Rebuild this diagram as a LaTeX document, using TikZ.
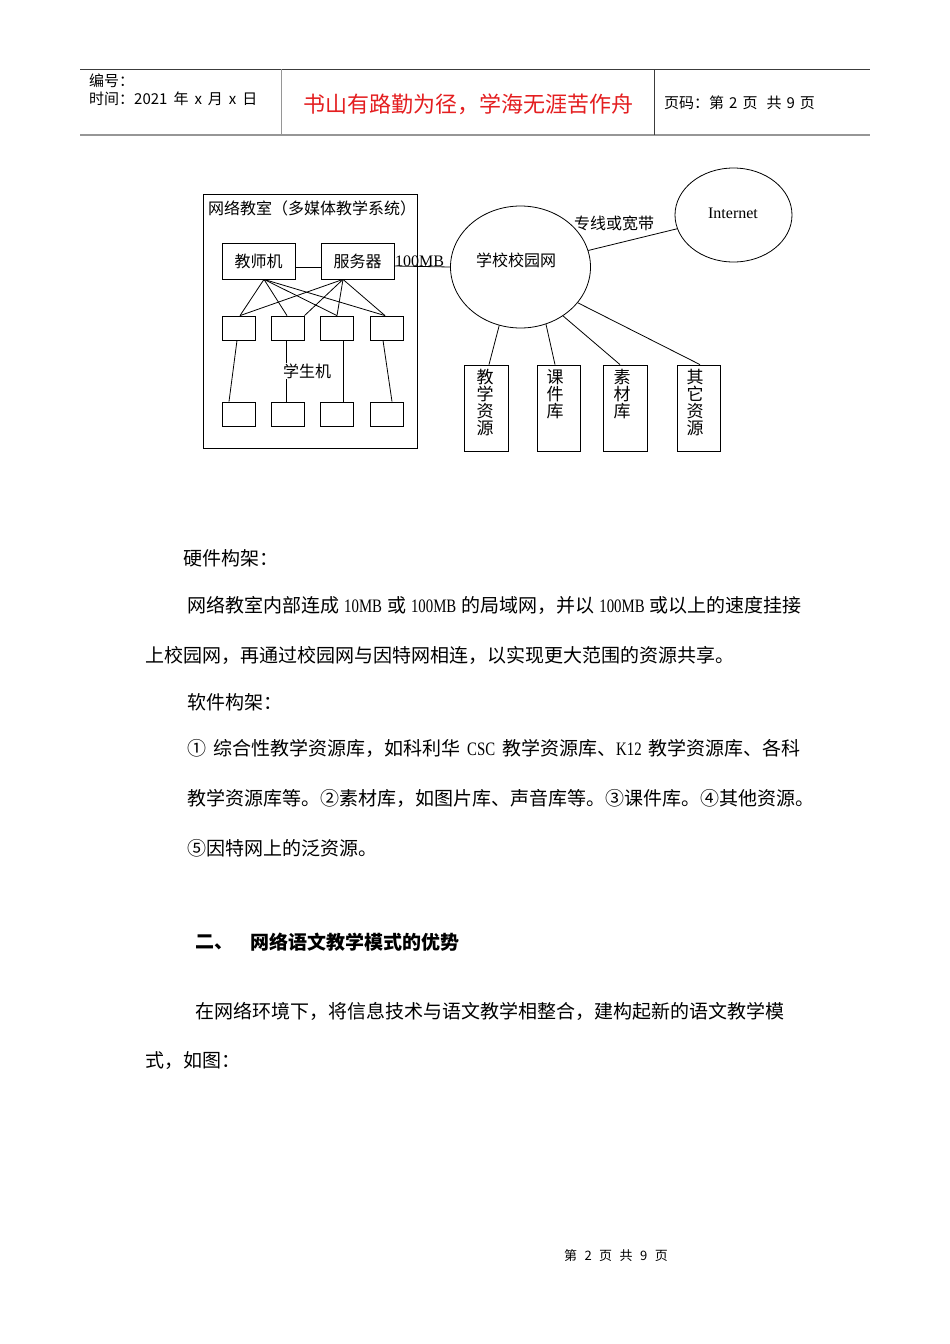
\documentclass[tikz,border=0pt]{standalone}
\usepackage{fontspec}
\usepackage{graphicx}
\setmainfont{Liberation Serif}
\newfontfamily\cjk{Noto Sans CJK SC}
\newfontfamily\latf{Liberation Serif}
\newcommand\lat[1]{\scalebox{0.78}[1]{\latf #1}}
\newcommand\sps{\hspace{7pt}}
\newcommand\spn{\hspace{5pt}}
\usetikzlibrary{shapes.geometric,calc}
\definecolor{hdrred}{RGB}{228,30,32}
\definecolor{hdrgray}{RGB}{150,150,150}
\definecolor{hdrdark}{RGB}{60,60,60}
\begin{document}
\begin{tikzpicture}[x=1pt,y=-1pt,
  ln/.style={line width=0.8pt},
  pcbox/.style={draw,line width=0.8pt,inner sep=0,minimum width=33pt,minimum height=24pt},
  srvbox/.style={draw,line width=0.8pt,inner sep=0,minimum width=73pt,minimum height=36pt,font=\cjk\fontsize{16}{16}\selectfont},
  resbox/.style={draw,line width=0.8pt,inner sep=0,minimum width=44pt,minimum height=86pt},
  vtext/.style={anchor=north,inner sep=0,align=center,font=\cjk\fontsize{17}{17}\selectfont},
  dlabel/.style={inner sep=0,font=\cjk\fontsize{16}{16}\selectfont},
  body/.style={anchor=west,inner sep=0,font=\cjk\fontsize{19}{19}\selectfont},
  hdr/.style={anchor=west,inner sep=0,font=\cjk\fontsize{15}{15}\selectfont}]
\useasboundingbox (0,0) rectangle (950,1344);
\fill[white] (0,0) rectangle (950,1344);

% ---------- header ----------
\coordinate (hTL) at (80,69);
\coordinate (hTR) at (870,69);
\coordinate (hBL) at (80,135);
\coordinate (hBR) at (870,135);
\draw[hdrdark,line width=1pt] (hTL) -- (hTR);
\draw[hdrgray,line width=1.6pt] (hBL) -- (hBR);
\coordinate (v1t) at (281,69); \coordinate (v1b) at (281,135);
\coordinate (v2t) at (654,69); \coordinate (v2b) at (654,135);
\draw[hdrgray,line width=1pt] (v1t) -- (v1b);
\draw[hdrdark,line width=1pt] (v2t) -- (v2b);
\node[hdr] (hno) at (89,81) {编号：};
\node[hdr] (htime) at (89,99) {时间：2021\hspace{6pt}年\hspace{6pt}x\hspace{6pt}月\hspace{6pt}x\hspace{6pt}日};
\node[anchor=center,inner sep=0,text=hdrred,font=\cjk\fontsize{22}{22}\selectfont] (hmotto) at (468,104) {书山有路勤为径，学海无涯苦作舟};
\node[hdr] (hpage) at (664,103) {页码：第\hspace{5pt}2\hspace{5pt}页\hspace{9pt}共\hspace{5pt}9\hspace{5pt}页};

% ---------- diagram: classroom ----------
\node[draw,line width=0.8pt,inner sep=0,minimum width=214pt,minimum height=254pt] (room) at (310,321) {};
\node[dlabel,anchor=west] (roomlbl) at (208,208) {网络教室（多媒体教学系统）};
\node[srvbox] (tc) at (258.5,261) {教师机};
\node[srvbox] (sv) at (357.5,261) {服务器};
\draw[ln] ($(tc.east)+(0,6)$) -- ($(sv.west)+(0,6)$);

\node[pcbox] (p1) at (238.5,328) {};
\node[pcbox] (p2) at (288,328) {};
\node[pcbox] (p3) at (337,328) {};
\node[pcbox] (p4) at (386.5,328) {};
\node[pcbox] (q1) at (238.5,414) {};
\node[pcbox] (q2) at (288,414) {};
\node[pcbox] (q3) at (337,414) {};
\node[pcbox] (q4) at (386.5,414) {};

\coordinate (tcB) at ($(tc.south)+(5.5,0)$);
\coordinate (svB) at ($(sv.south)+(-14.5,0)$);
\draw[ln] (tcB) -- ($(p1.north)+(1.5,0)$);
\draw[ln] (tcB) -- ($(p2.north)+(-1,0)$);
\draw[ln] (tcB) -- ($(p3.north)+(0,0)$);
\draw[ln] (tcB) -- ($(p4.north)+(-1.5,0)$);
\draw[ln] (svB) -- ($(p1.north)+(1.5,0)$);
\draw[ln] (svB) -- ($(p2.north)+(16.5,0)$);
\draw[ln] (svB) -- ($(p3.north)+(0,0)$);
\draw[ln] (svB) -- ($(p4.north)+(-1.5,0)$);

\draw[ln] ($(p1.south)+(-1.5,0)$) -- ($(q1.north)+(-9.5,0)$);
\draw[ln] ($(p2.south)+(-2,0)$) -- ($(q2.north)+(-2,0)$);
\draw[ln] ($(p3.south)+(6,0)$) -- ($(q3.north)+(6,0)$);
\draw[ln] ($(p4.south)+(-3.5,0)$) -- ($(q4.north)+(5.5,0)$);
\node[dlabel,fill=white,inner sep=1pt] (stu) at (307,371) {学生机};

% ---------- campus network ----------
\node[draw,ellipse,line width=0.8pt,inner sep=0,minimum width=140pt,minimum height=122pt] (campus) at (520.5,267) {};
\node[dlabel] (campuslbl) at (516,260) {学校校园网};
\draw[ln] ($(sv.east)+(0,5)$) -- (campus.west);
\node[inner sep=0,anchor=south west,font=\latf\fontsize{16}{16}\selectfont] (mb) at (395,267) {100MB};

\node[draw,ellipse,line width=0.8pt,inner sep=0,minimum width=117pt,minimum height=94pt] (inet) at (733.5,215) {};
\node[inner sep=0,font=\latf\fontsize{16}{16}\selectfont] (inetlbl) at (733,213) {Internet};
\draw[ln] (campus) -- (inet);
\node[dlabel] (zx) at (614,223) {专线或宽带};

% ---------- resources ----------
\node[resbox] (r1) at (486,408) {};
\node[resbox,minimum width=43pt] (r2) at (558.5,408) {};
\node[resbox] (r3) at (625,408) {};
\node[resbox,minimum width=43pt] (r4) at (698.5,408) {};
\node[vtext] (r1t) at (485,369) {教\\学\\资\\源};
\node[vtext] (r2t) at (555,369) {课\\件\\库};
\node[vtext] (r3t) at (622,369) {素\\材\\库};
\node[vtext] (r4t) at (695,369) {其\\它\\资\\源};
\draw[ln] (campus.-110) -- ($(r1.north)+(3,0)$);
\draw[ln] (campus.-66.5) -- ($(r2.north)+(-3.5,0)$);
\draw[ln] (campus.-49) -- ($(r3.north)+(-5,0)$);
\draw[ln] (campus.-32.8) -- ($(r4.north)+(1.5,0)$);

% ---------- body text ----------
\node[body] (t1) at (183,558) {硬件构架：};
\node[body] (t2) at (187,605) {网络教室内部连成\spn\lat{10MB}\spn 或\spn\lat{100MB}\spn 的局域网，并以\spn\lat{100MB}\spn 或以上的速度挂接};
\node[body] (t3) at (145,655) {上校园网，再通过校园网与因特网相连，以实现更大范围的资源共享。};
\node[body] (t4) at (187,702) {软件构架：};
\node[body] (t5) at (187,748) {①\sps 综合性教学资源库，如科利华\sps\lat{CSC}\sps 教学资源库、\lat{K12}\sps 教学资源库、各科};
\node[body] (t6) at (187,798) {教学资源库等。②素材库，如图片库、声音库等。③课件库。④其他资源。};
\node[body] (t7) at (187,848) {⑤因特网上的泛资源。};
\node[body,font=\cjk\bfseries\fontsize{19}{19}\selectfont] (h2a) at (195,942) {二、};
\node[body,font=\cjk\bfseries\fontsize{19}{19}\selectfont] (h2b) at (250,942) {网络语文教学模式的优势};
\node[body] (t8) at (195,1011) {在网络环境下，将信息技术与语文教学相整合，建构起新的语文教学模};
\node[body] (t9) at (145,1061) {式，如图：};

% ---------- footer ----------
\node[inner sep=0,font=\cjk\fontsize{13}{13}\selectfont] (foot) at (616,1256) {第\hspace{7.5pt}2\hspace{7.5pt}页\hspace{7.5pt}共\hspace{7.5pt}9\hspace{7.5pt}页};
\end{tikzpicture}
\end{document}
